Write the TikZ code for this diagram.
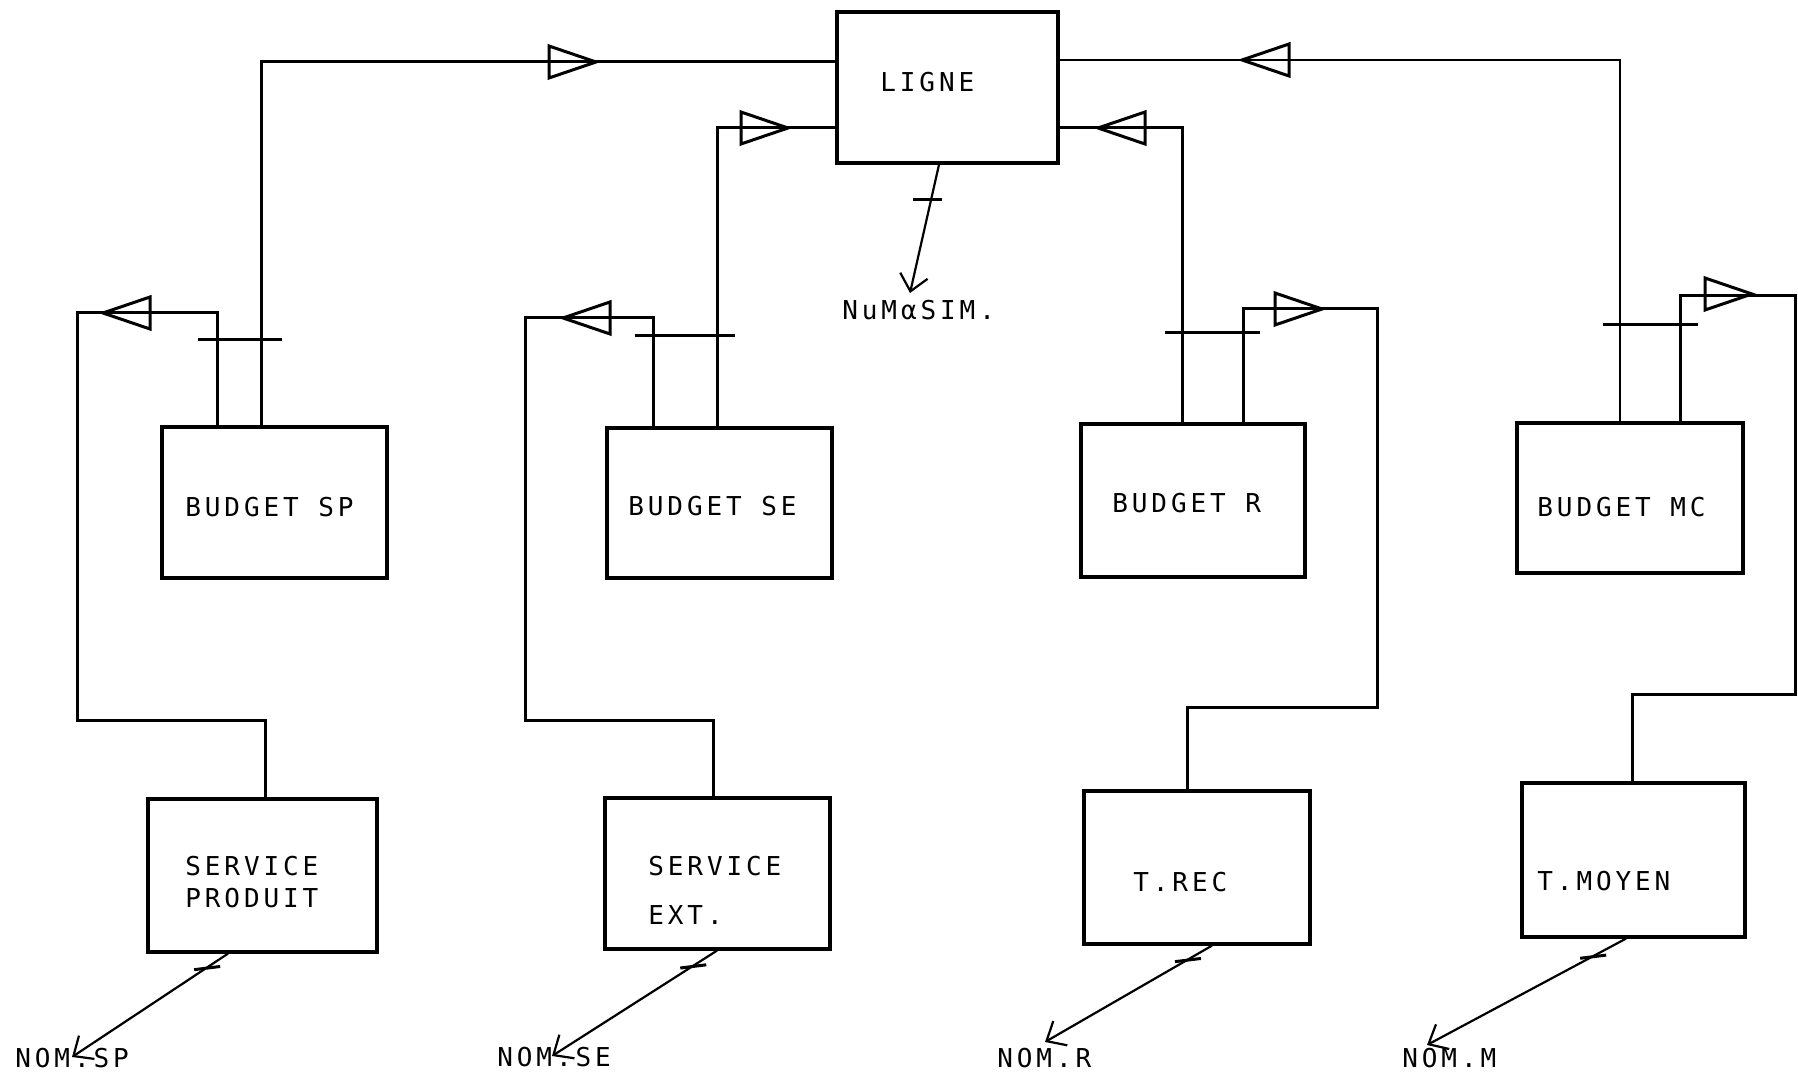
\documentclass[tikz,border=0pt]{standalone}
\usepackage{fontspec}
\newfontfamily\tw[LetterSpace=15]{DejaVu Sans Mono}
\usetikzlibrary{arrows.meta}
\newcommand\boxat[5]{\node[box, minimum width={(#4-#2)*0.5pt}, minimum height={(#5-#3)*0.5pt}] (#1) at ({(#2+#4)/2},{(#3+#5)/2}) {};}
\newcommand\trir[2]{\draw[tri] (#1,#2) -- ++(-47,-16) -- ++(0,32) -- cycle;}
\newcommand\tril[2]{\draw[tri] (#1,#2) -- ++(47,-16) -- ++(0,32) -- cycle;}
\newcommand\outarrow[4]{% start, end, tick pos, tick name
  \draw[arr] #1 -- coordinate[pos=#3] (#4) #2;
  \draw[tickbar] ([xshift=-6pt,yshift=-0.8pt]#4) -- ([xshift=7pt,yshift=0.8pt]#4);}
\begin{document}
\begin{tikzpicture}[x=0.5pt,y=-0.5pt,
  box/.style={draw, line width=1.6pt, inner sep=0pt},
  lbl/.style={font=\tw\fontsize{13}{15}\selectfont, inner sep=0pt, anchor=west},
  conn/.style={line width=1.5pt},
  thinconn/.style={line width=0.8pt},
  tri/.style={line width=1.5pt, line join=miter},
  tickbar/.style={line width=1.5pt},
  arr/.style={line width=1.1pt, -{Straight Barb[length=8pt,width=14pt,line width=1.1pt]}}]
\useasboundingbox (0,0) rectangle (1798,1074);
% boxes
\boxat{ligne}{837}{12}{1058}{163}
\boxat{bsp}{162}{427}{387}{578}
\boxat{bse}{607}{428}{832}{578}
\boxat{br}{1081}{424}{1305}{577}
\boxat{bmc}{1517}{423}{1743}{573}
\boxat{ssp}{148}{799}{377}{952}
\boxat{sse}{605}{798}{830}{949}
\boxat{trec}{1084}{791}{1310}{944}
\boxat{tmoy}{1522}{783}{1745}{937}
% texts
\node[lbl] (tligne) at (880,82) {LIGNE};
\node[lbl] (tbsp) at (185,507) {BUDGET SP};
\node[lbl] (tbse) at (628,506) {BUDGET SE};
\node[lbl] (tbr) at (1112,503) {BUDGET R};
\node[lbl] (tbmc) at (1537,507) {BUDGET MC};
\node[lbl] (tssp1) at (185,866) {SERVICE};
\node[lbl] (tssp2) at (185,898) {PRODUIT};
\node[lbl] (tsse1) at (648,866) {SERVICE};
\node[lbl] (tsse2) at (648,915) {EXT.};
\node[lbl] (ttrec) at (1133,882) {T.REC};
\node[lbl] (ttmoy) at (1537,881) {T.MOYEN};
\node[lbl] (numsim) at (842,310) {NuMαSIM.};
\node[lbl] (nomsp) at (15,1058) {NOM.SP};
\node[lbl] (nomse) at (497,1057) {NOM.SE};
\node[lbl] (nomr) at (997,1058) {NOM.R};
\node[lbl] (nomm) at (1402,1058) {NOM.M};
% connectors LIGNE <-> budgets
\draw[conn] (ligne.west |- 0,62) -| (bsp.north -| 261,0);
\draw[conn] (ligne.west |- 0,128) -| (bse.north -| 717,0);
\draw[thinconn] (ligne.east |- 0,60) -| (bmc.north -| 1620,0);
\draw[conn] (ligne.east |- 0,128) -| (br.north -| 1182,0);
% loops budget -> service
\draw[conn] (bsp.north -| 217,0) |- (77,313) |- (265,720) -- (ssp.north -| 265,0);
\draw[conn] (bse.north -| 653,0) |- (525,318) |- (713,720) -- (sse.north -| 713,0);
\draw[conn] (br.north -| 1243,0) |- (1377,309) |- (1187,707) -- (trec.north -| 1187,0);
\draw[conn] (bmc.north -| 1680,0) |- (1795,296) |- (1632,694) -- (tmoy.north -| 1632,0);
% triangles
\trir{596}{62}
\trir{788}{128}
\trir{1322}{309}
\trir{1752}{294}
\tril{1242}{60}
\tril{1098}{128}
\tril{103}{313}
\tril{563}{318}
% tick bars
\draw[tickbar] (198,340) -- (282,340);
\draw[tickbar] (635,336) -- (735,336);
\draw[tickbar] (1165,333) -- (1260,333);
\draw[tickbar] (1603,325) -- (1698,325);
\draw[tickbar] (913,200) -- (942,200);
% output arrows
\coordinate (enum) at (910,293);
\coordinate (esp) at (72,1057);
\coordinate (ese) at (552,1056);
\coordinate (er) at (1045,1042);
\coordinate (em) at (1427,1045);
\draw[arr] (ligne.south -| 939,0) -- (enum);
\outarrow{(ssp.south -| 228,0)}{(esp)}{0.14}{ksp}
\outarrow{(sse.south -| 717,0)}{(ese)}{0.15}{kse}
\outarrow{(trec.south -| 1212,0)}{(er)}{0.15}{kr}
\outarrow{(tmoy.south -| 1626,0)}{(em)}{0.17}{km}
\end{tikzpicture}
\end{document}
